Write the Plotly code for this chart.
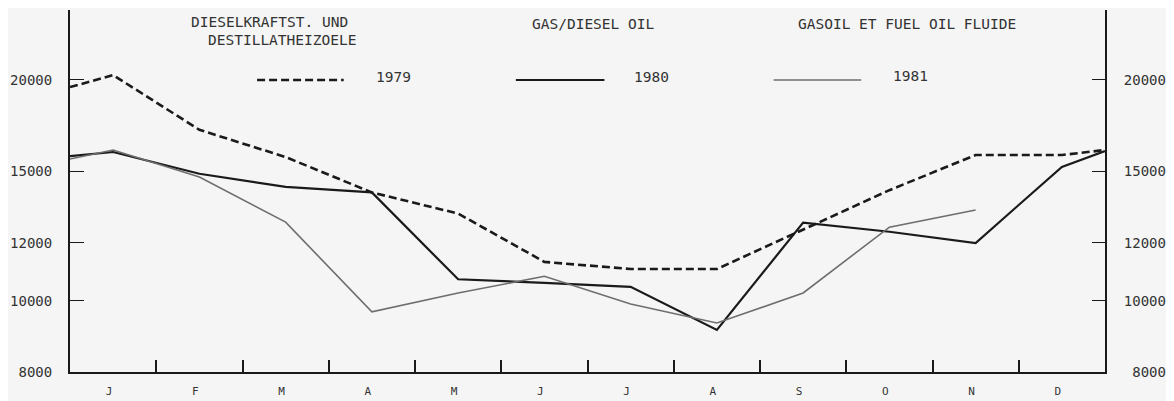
import plotly.graph_objects as go
import math

months = ["J", "F", "M", "A", "M", "J", "J", "A", "S", "O", "N", "D"]

# monthly values (at month centres) plus the values where each line meets the side axes
v1979 = [20300, 17100, 15700, 14050, 13150, 11300, 11050, 11050, 12500, 14150, 15800, 15800]
v1979_start, v1979_end = 19550, 16050

v1980 = [15950, 14900, 14300, 14050, 10700, 10580, 10450, 9130, 12780, 12420, 11990, 15220]
v1980_start, v1980_end = 15750, 16000

v1981 = [16050, 14750, 12800, 9660, 10250, 10800, 9900, 9330, 10250, 12600, 13300]
v1981_start = 15600

y_ticks = [8000, 10000, 12000, 15000, 20000]
y_min, y_max = 8000, 24900

centres = [i + 0.5 for i in range(12)]

FONT = "DejaVu Sans Mono"
INK = "#1a1a1a"

fig = go.Figure()

fig.add_trace(go.Scatter(
    x=[0] + centres + [12], y=[v1979_start] + v1979 + [v1979_end],
    mode="lines", line=dict(color=INK, width=2.6, dash="8px,4px"),
    showlegend=False, hoverinfo="skip"))

fig.add_trace(go.Scatter(
    x=[0] + centres + [12], y=[v1980_start] + v1980 + [v1980_end],
    mode="lines", line=dict(color=INK, width=2.2),
    showlegend=False, hoverinfo="skip"))

fig.add_trace(go.Scatter(
    x=[0] + centres[:len(v1981)], y=[v1981_start] + v1981,
    mode="lines", line=dict(color="#6e6e6e", width=1.6),
    showlegend=False, hoverinfo="skip"))

# invisible trace on the right axis so it is drawn
fig.add_trace(go.Scatter(x=[None], y=[None], yaxis="y2", showlegend=False, hoverinfo="skip"))

OFF = 8  # page offset of the figure inside the browser window
W, H = 1174 - OFF, 401 - OFF
L, R, T, B = 65, 1105, 10, 372  # plot area in window pixels


def px(x):
    return (x - L) / (R - L)


def py(y):
    return (B - y) / (B - T)


tickfont = dict(family=FONT, size=14, color="#333")
width = max(len(str(v)) for v in y_ticks)
right_text = ["\u00a0" * (width - len(str(v))) + str(v) for v in y_ticks]

fig.update_layout(
    width=W, height=H,
    margin=dict(l=L - OFF, r=W - (R - OFF), t=T - OFF, b=H - (B - OFF)),
    paper_bgcolor="#f5f5f5", plot_bgcolor="#f5f5f5",
    showlegend=False,
    xaxis=dict(
        range=[0, 12], showgrid=False, zeroline=False,
        showline=True, linecolor=INK, linewidth=2,
        tickmode="array", tickvals=centres, ticktext=months,
        ticks="", tickfont=dict(family=FONT, size=11, color="#333"),
        ticklabelstandoff=8, ticklabelshift=-4,
        minor=dict(tickmode="array", tickvals=list(range(1, 12)),
                   ticks="inside", ticklen=12, tickwidth=1.5, tickcolor=INK),
    ),
    yaxis=dict(
        type="log", range=[math.log10(y_min), math.log10(y_max)],
        showgrid=False, zeroline=False,
        showline=True, linecolor=INK, linewidth=2,
        tickmode="array", tickvals=y_ticks, ticktext=[str(v) for v in y_ticks],
        ticks="inside", ticklen=14, tickwidth=1.3, tickcolor=INK,
        tickfont=tickfont, ticklabelstandoff=13,
    ),
    yaxis2=dict(
        type="log", range=[math.log10(y_min), math.log10(y_max)],
        overlaying="y", side="right", anchor="x",
        showgrid=False, zeroline=False,
        showline=True, linecolor=INK, linewidth=2,
        tickmode="array", tickvals=y_ticks, ticktext=right_text,
        ticks="inside", ticklen=13, tickwidth=1.3, tickcolor=INK,
        tickfont=tickfont, ticklabelstandoff=14,
    ),
)

texts = [
    ("DIESELKRAFTST. UND", 185, 22),
    ("DESTILLATHEIZOELE", 202, 40),
    ("GAS/DIESEL OIL", 527, 24),
    ("GASOIL ET FUEL OIL FLUIDE", 795, 24),
    ("1979", 370, 77),
    ("1980", 630, 77),
    ("1981", 890, 76),
]
for t, x, y in texts:
    fig.add_annotation(text=t, x=px(x), y=py(y), xref="paper", yref="paper",
                       xanchor="left", yanchor="middle", showarrow=False,
                       font=dict(family=FONT, size=14.5, color="#333"))

legend_samples = [
    (253, 340, 80, dict(color=INK, width=2.6, dash="8px,4px")),
    (513, 602, 80, dict(color=INK, width=2.2)),
    (772, 860, 80, dict(color="#6e6e6e", width=1.6)),
]
for x0, x1, y, ln in legend_samples:
    fig.add_shape(type="line", xref="paper", yref="paper",
                  x0=px(x0), x1=px(x1), y0=py(y), y1=py(y), line=ln)

fig.write_html("out.html")
